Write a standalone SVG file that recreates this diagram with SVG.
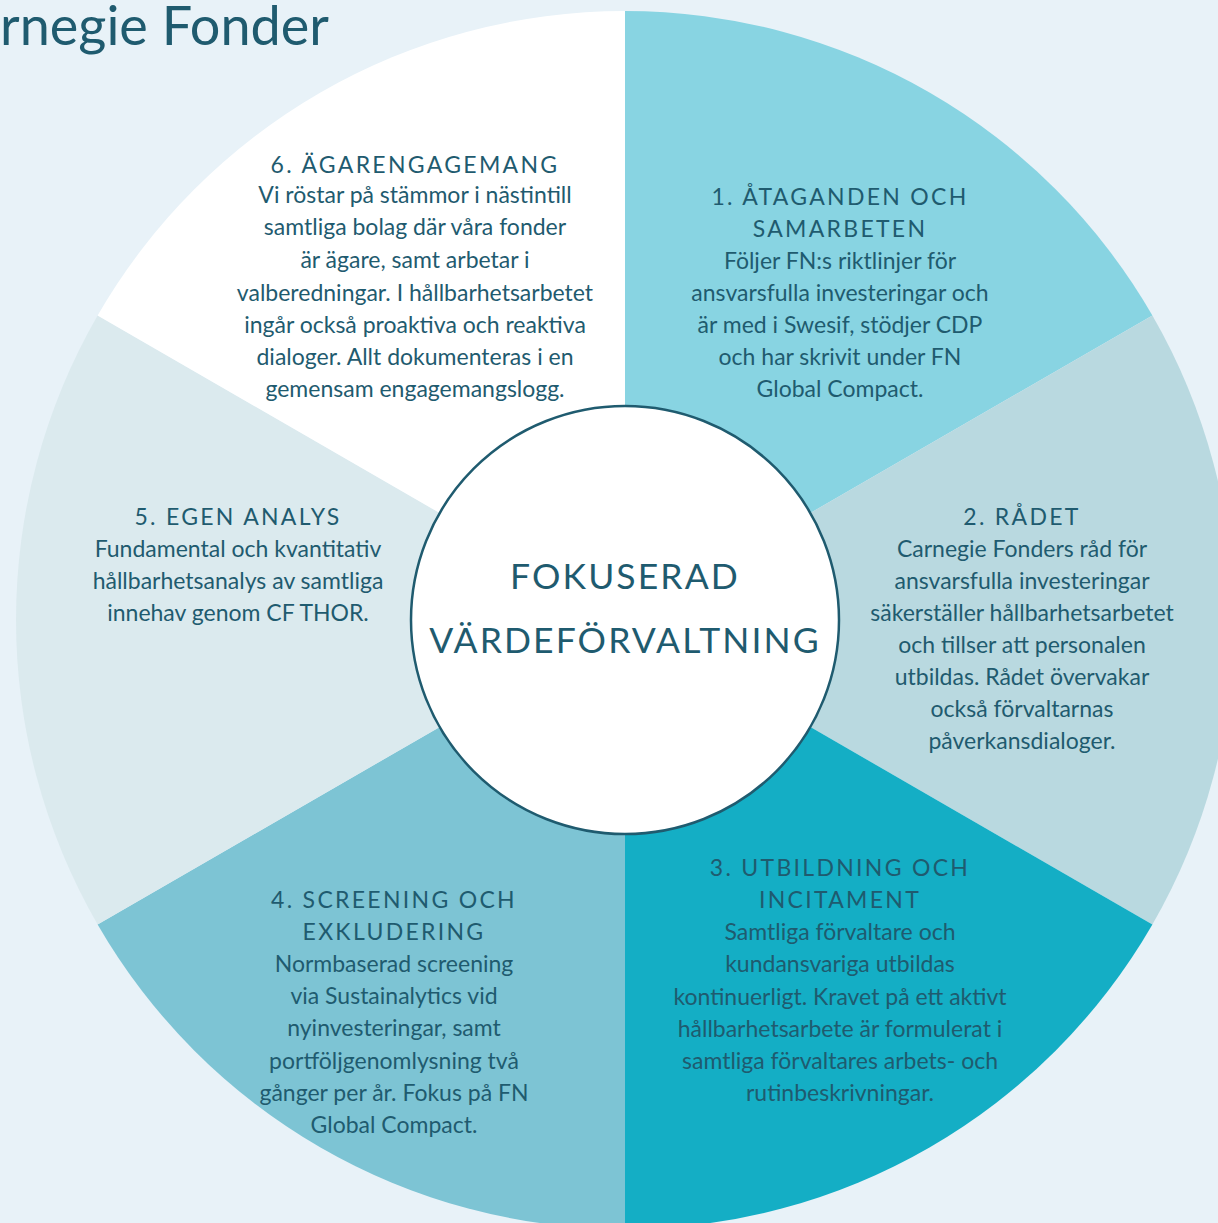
<svg xmlns="http://www.w3.org/2000/svg" width="1218" height="1223" viewBox="0 0 1218 1223">
  <style>
    text { font-family: Lato, "Open Sans", "Liberation Sans", sans-serif; fill: #1f5b6f; text-anchor: middle; }
    .h { font-size: 23px; letter-spacing: 2.3px; }
    .b { font-size: 23px; }
    .core { font-size: 35.5px; letter-spacing: 2.1px; }
    .title { font-size: 54px; text-anchor: start; }
    .seg { stroke: none; }
  </style>
  <rect width="1218" height="1223" fill="#e8f2f8"/>
  <text class="title" x="0" y="45">rnegie Fonder</text>

  <!-- wheel segments, centre (625,620), radius 609 -->
  <g id="seg1">
    <path class="seg" fill="#88d4e2" d="M625,620 L625,11 A609,609 0 0 1 1152.4,315.5 Z"/>
    <text class="h" x="840" y="205">1. ÅTAGANDEN OCH</text>
    <text class="h" x="840" y="237">SAMARBETEN</text>
    <text class="b" x="840" y="269">Följer FN:s riktlinjer för</text>
    <text class="b" x="840" y="301">ansvarsfulla investeringar och</text>
    <text class="b" x="840" y="333">är med i Swesif, stödjer CDP</text>
    <text class="b" x="840" y="365">och har skrivit under FN</text>
    <text class="b" x="840" y="397">Global Compact.</text>
  </g>
  <g id="seg2">
    <path class="seg" fill="#b9d9e0" d="M625,620 L1152.4,315.5 A609,609 0 0 1 1152.4,924.5 Z"/>
    <text class="h" x="1022" y="525">2. RÅDET</text>
    <text class="b" x="1022" y="557">Carnegie Fonders råd för</text>
    <text class="b" x="1022" y="589">ansvarsfulla investeringar</text>
    <text class="b" x="1022" y="621">säkerställer hållbarhetsarbetet</text>
    <text class="b" x="1022" y="653">och tillser att personalen</text>
    <text class="b" x="1022" y="685">utbildas. Rådet övervakar</text>
    <text class="b" x="1022" y="717">också förvaltarnas</text>
    <text class="b" x="1022" y="749">påverkansdialoger.</text>
  </g>
  <g id="seg3">
    <path class="seg" fill="#14aec5" d="M625,620 L1152.4,924.5 A609,609 0 0 1 625,1229 Z"/>
    <text class="h" x="840" y="876">3. UTBILDNING OCH</text>
    <text class="h" x="840" y="908">INCITAMENT</text>
    <text class="b" x="840" y="940">Samtliga förvaltare och</text>
    <text class="b" x="840" y="972">kundansvariga utbildas</text>
    <text class="b" x="840" y="1005">kontinuerligt. Kravet på ett aktivt</text>
    <text class="b" x="840" y="1037">hållbarhetsarbete är formulerat i</text>
    <text class="b" x="840" y="1069">samtliga förvaltares arbets- och</text>
    <text class="b" x="840" y="1101">rutinbeskrivningar.</text>
  </g>
  <g id="seg4">
    <path class="seg" fill="#7dc4d4" d="M625,620 L625,1229 A609,609 0 0 1 97.6,924.5 Z"/>
    <text class="h" x="394" y="908">4. SCREENING OCH</text>
    <text class="h" x="394" y="940">EXKLUDERING</text>
    <text class="b" x="394" y="972">Normbaserad screening</text>
    <text class="b" x="394" y="1004">via Sustainalytics vid</text>
    <text class="b" x="394" y="1036">nyinvesteringar, samt</text>
    <text class="b" x="394" y="1069">portföljgenomlysning två</text>
    <text class="b" x="394" y="1101">gånger per år. Fokus på FN</text>
    <text class="b" x="394" y="1133">Global Compact.</text>
  </g>
  <g id="seg5">
    <path class="seg" fill="#dbeaee" d="M625,620 L97.6,924.5 A609,609 0 0 1 97.6,315.5 Z"/>
    <text class="h" x="238" y="525">5. EGEN ANALYS</text>
    <text class="b" x="238" y="557">Fundamental och kvantitativ</text>
    <text class="b" x="238" y="589">hållbarhetsanalys av samtliga</text>
    <text class="b" x="238" y="621">innehav genom CF THOR.</text>
  </g>
  <g id="seg6">
    <path class="seg" fill="#ffffff" d="M625,620 L97.6,315.5 A609,609 0 0 1 625,11 Z"/>
    <text class="h" x="415" y="173">6. ÄGARENGAGEMANG</text>
    <text class="b" x="415" y="203">Vi röstar på stämmor i nästintill</text>
    <text class="b" x="415" y="235">samtliga bolag där våra fonder</text>
    <text class="b" x="415" y="268">är ägare, samt arbetar i</text>
    <text class="b" x="415" y="301">valberedningar. I hållbarhetsarbetet</text>
    <text class="b" x="415" y="333">ingår också proaktiva och reaktiva</text>
    <text class="b" x="415" y="365">dialoger. Allt dokumenteras i en</text>
    <text class="b" x="415" y="397">gemensam engagemangslogg.</text>
  </g>

  <!-- hub -->
  <g id="hub">
    <circle cx="625" cy="620" r="214" fill="#ffffff" stroke="#1f5b6f" stroke-width="2.5"/>
    <text class="core" x="625" y="589">FOKUSERAD</text>
    <text class="core" x="625" y="653">VÄRDEFÖRVALTNING</text>
  </g>
</svg>
